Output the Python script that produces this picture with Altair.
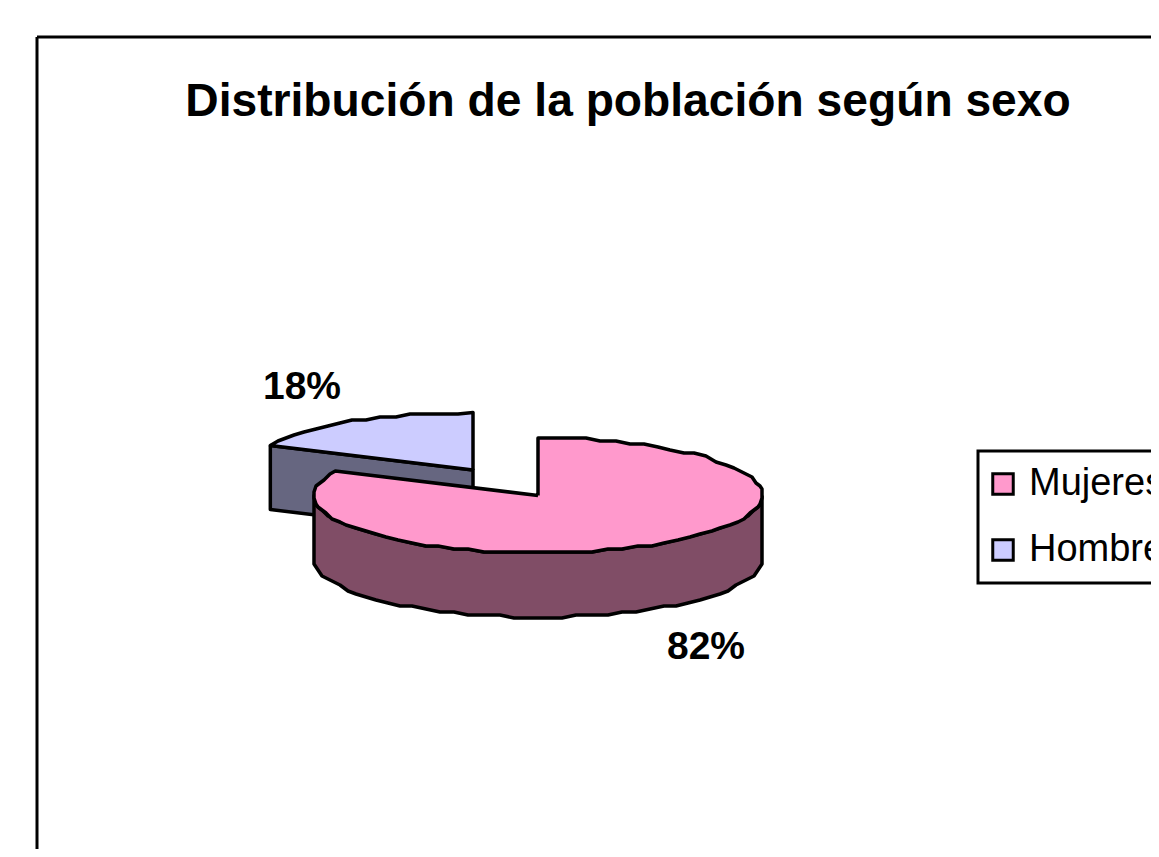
import math
import altair as alt
import pandas as pd

title = "Distribución de la población según sexo"
categories = ["Mujeres", "Hombres"]
shares = [82, 18]
top_colors = ["#FF99CC", "#CCCCFF"]
side_colors = ["#804D66", "#666680"]

W, H, TOP = 1143, 841, 120
FONT = "Liberation Sans"
RX, RY, DEPTH = 224, 57.5, 64
M_C = (538, 495.5)
H_C = (473, 470)


def pt(c, t, dy=0):
    a = math.radians(t)
    return (c[0] + RX * math.sin(a), c[1] - RY * math.cos(a) + dy)


def jag(p):
    return (round(p[0] / 2) * 2, round(p[1] / 3) * 3)


def arc(c, t0, t1, dy=0, step=4):
    n = max(1, int(abs(t1 - t0) / step))
    mid = [jag(pt(c, t0 + (t1 - t0) * i / n, dy)) for i in range(1, n)]
    return [pt(c, t0, dy)] + mid + [pt(c, t1, dy)]


split = 360 * shares[0] / sum(shares)
mujeres_top = [(M_C[0], M_C[1])] + arc(M_C, 0, split) + [(M_C[0], M_C[1])]
mujeres_side = arc(M_C, 90, 270) + arc(M_C, 270, 90, DEPTH)
mujeres_side.append(mujeres_side[0])
hombres_top = [H_C] + arc(H_C, split, 360) + [H_C]
a = pt(H_C, split)
hombres_side = [a, H_C, (H_C[0], H_C[1] + DEPTH), (a[0], a[1] + DEPTH), a]

x_s = alt.Scale(domain=[8, 8 + W], range=[0, W])
y_s = alt.Scale(domain=[TOP, 8 + H], range=[0, 8 + H - TOP])
xe = lambda: alt.X("x:Q", scale=x_s, axis=None)
ye = lambda: alt.Y("y:Q", scale=y_s, axis=None)


def frame(points):
    return pd.DataFrame([{"x": p[0], "y": p[1], "i": i} for i, p in enumerate(points)])


def side(points, color):
    return alt.Chart(frame(points)).mark_line(
        fill=color, stroke="black", strokeWidth=3.5, strokeJoin="round", interpolate="linear"
    ).encode(x=xe(), y=ye(), order="i:Q")


def top(points, cat, legend=None):
    d = frame(points)
    d["sexo"] = cat
    return alt.Chart(d).mark_line(
        stroke="black", strokeWidth=3.5, strokeJoin="round", interpolate="linear"
    ).encode(
        x=xe(), y=ye(), order="i:Q",
        fill=alt.Fill("sexo:N", scale=alt.Scale(domain=categories, range=top_colors), legend=legend),
    )


legend = alt.Legend(
    title=None, orient="none", legendX=970, legendY=451 - TOP,
    symbolType="square", symbolSize=420, symbolStrokeColor="black", symbolStrokeWidth=3,
    symbolOffset=-8,
    labelFont=FONT, labelFontSize=38, labelColor="black", labelOffset=7,
    fillColor="white", strokeColor="black", padding=14, rowPadding=28,
)

frame_left = alt.Chart(pd.DataFrame({"x": [37], "y": [37], "y2": [8 + H]})).mark_rule(
    stroke="black", strokeWidth=3).encode(x=xe(), y=ye(), y2="y2:Q")
frame_top = alt.Chart(pd.DataFrame({"x": [37], "x2": [8 + W], "y": [37]})).mark_rule(
    stroke="black", strokeWidth=3).encode(x=xe(), x2="x2:Q", y=ye())

labels = alt.Chart(pd.DataFrame({
    "x": [706, 302], "y": [647, 387], "t": [f"{v}%" for v in shares]
})).mark_text(font=FONT, fontSize=39, fontWeight="bold", color="black",
              align="center", baseline="middle").encode(x=xe(), y=ye(), text="t:N")

chart = alt.layer(
    frame_left, frame_top,
    side(hombres_side, side_colors[1]),
    top(hombres_top, categories[1], legend),
    side(mujeres_side, side_colors[0]),
    top(mujeres_top, categories[0], legend),
    labels,
).properties(
    width=W, height=8 + H - TOP,
    title=alt.TitleParams(title, font=FONT, fontSize=46.2, fontWeight="bold", color="black",
                          anchor="middle", dx=48.5, dy=93, offset=2),
    autosize=alt.AutoSizeParams(type="none"),
    padding={"left": 0, "right": 0, "bottom": 0, "top": TOP - 8},
).configure_view(stroke=None).configure_legend(strokeWidth=3)

chart.save("out.html", embed_options={"renderer": "svg", "actions": False})
